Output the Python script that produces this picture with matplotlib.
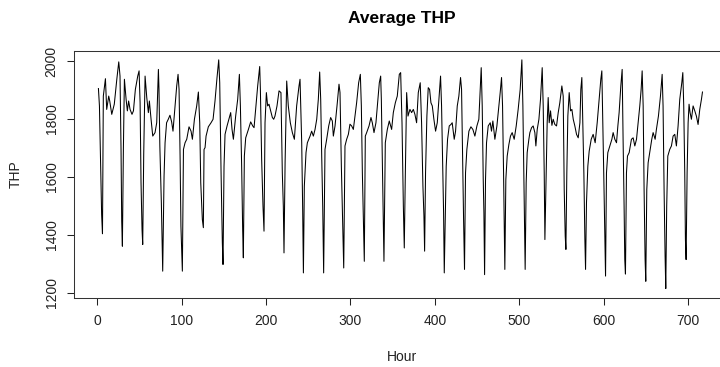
import matplotlib
matplotlib.use("Agg")
import matplotlib.pyplot as plt

# hourly average THP (hour, value)
hours = [
    1.2, 2.4, 4, 5, 6, 7, 9.5, 11, 13.4, 14.6, 17, 20, 23, 25.3, 26.8, 28, 28.8, 29.6, 30.8, 32,
    34, 35.5, 37, 38.7, 41, 42.7, 45, 47.8, 49.4, 50.6, 51.7, 52.9, 53.7, 54.9, 56.5, 58.5, 60.4, 61.6,
    63.6, 65.6, 68.3, 70.3, 72.3, 73, 74, 75.8, 77.4, 79, 80.2, 82, 84, 86, 88, 89.6, 92, 94, 95.6,
    96.8, 98, 99, 100.7, 102,
    103.9, 105.9, 108.6, 111, 112.6, 115, 117.7, 119.7, 121.3, 122.5, 124.4, 125.6, 126.4, 127.6,
    128.8, 131.5, 134.7, 137.1, 139.4, 141.8, 143.8, 145, 146.6, 148.1, 148.9, 150.1, 151.3, 153.7,
    156.4, 158, 159.6, 161.2, 163.9, 166.3, 168.3, 169.5, 171, 172.2, 173, 174.2, 175.8, 179, 181.7,
    184.1, 185.7, 187.6, 190, 192.4, 193.2, 194.7, 196.3, 197.5, 198.7, 200.3, 201.8, 203.4, 205,
    207.4, 209, 210.5, 212.9, 215.3, 217.6, 219.2, 220.4, 221.2, 222.5, 224.4, 226.3, 228.7, 231.1,
    233.5, 236.2, 239, 240.2, 242.2, 243.4, 244.2,
    245.3, 247.3, 248.9, 252.1, 254, 256, 258, 260, 261.9, 263.5, 264.7, 265.9, 267.1, 268.2, 269.8,
    271.8, 274.2, 276.5, 278.5, 279.7, 281.7, 284.4, 286.4, 287.6, 289.2, 290.4, 292, 293.5, 295.5,
    297.5, 299.4, 301.4, 303.4, 305.4, 307.3, 309.7, 311.7, 312.9, 314.1, 315.2, 316.4, 317.6, 319.2,
    322, 324.3, 325.9, 327.9, 330.2, 332.6, 334.2, 335.8, 336.6, 338.1, 339.7, 341.3, 343.7, 346,
    348.8, 350.8, 353.2, 355.5, 357.9, 359.5, 361.1, 362.7, 363.8, 365, 366.6, 368.2, 370.5, 372.5,
    374.5,
    376.4, 378.4, 380.4, 382.7, 384.3, 385.9, 387.1, 387.9, 389, 390.6, 392.2, 393.8, 395.4, 397,
    398.9, 400.9, 402.9, 404.8, 406.8, 408, 409.2, 410.4, 411.2, 412.3, 413.5, 415.1, 417.1, 419.1,
    420.6, 423, 424.6, 426.6, 428.5, 430.5, 431.7, 432.9, 434.1, 435.2, 436.4, 438, 440.4, 442.8,
    445.1, 447.5, 449.9, 452.2, 453.8, 455, 456.2, 457.4, 458.2, 459, 460.1, 461.3, 463.3, 465.7,
    467.2, 468.8, 471.2, 473.6, 476, 477.5, 479.1, 480.3, 481.5, 482.2, 483, 484.2, 485.8, 487.8,
    489.7, 491.7, 494.1, 496.5, 498.8, 501.2, 503.2, 504.4, 505.5, 506.3, 507.1, 508.3, 509.5, 511.5,
    512.7, 514.7, 516.6, 518.6, 519.8, 521.4, 523.4, 525.3, 527.3, 528.5, 529.7, 530.5, 531.7, 533.2,
    534.4, 535.6, 537.2, 538.8, 540.3, 542.3, 544.3, 546.3, 548.2, 550.6, 552.2, 553.4, 554.6, 555.4,
    556.5, 557.7, 559.3, 560.9, 562.5, 564.1, 566, 568, 570, 572, 573.1, 574.3, 575.5, 576.7, 577.9,
    578.7, 579.8, 581.4, 583, 585.4, 587.7, 590.1, 592.5, 594.8, 596.8, 598, 599.2, 600.4, 601.6,
    602.4, 603.5, 605.1, 607.5, 609.9, 611.4, 613.4, 615.4, 617, 618.5, 620.5, 622.1,
    623.2, 624.4, 625.2, 626, 627.2, 628.4, 630.4, 633.1, 635.1, 637.1, 639.1, 641, 643, 644.6,
    645.8, 647, 648.1, 649.3, 650.1, 651.3, 652.9, 654.8, 657.2, 658.8, 661.2, 662.7, 665.1, 667.5,
    669.5, 670.6, 671.8, 673, 673.8, 674.9, 676.2, 678.5, 680.5, 682.5, 684.5, 686.4, 688.4, 690.4,
    692.8, 694, 695.1, 696.3, 697.1, 697.9, 699.1, 700.3, 701.4, 702.6, 704.2, 706.2, 708.2, 710.1,
    712.1, 714.1, 716.1, 717.3,
]
thp = [
    1905, 1845, 1603, 1470, 1404, 1879, 1939, 1833, 1879, 1862, 1816, 1851, 1937, 1997, 1948, 1695, 1448, 1361, 1700, 1937,
    1868, 1828, 1862, 1833, 1816, 1828, 1902, 1948, 1966, 1856, 1580, 1419, 1367, 1680, 1948, 1874, 1822, 1862,
    1799, 1741, 1753, 1787, 1971, 1902, 1707, 1511, 1275, 1603, 1718, 1787, 1799, 1813, 1790, 1758, 1845, 1914, 1954,
    1902, 1672, 1430, 1275, 1695,
    1718, 1730, 1773, 1758, 1730, 1799, 1845, 1893, 1787, 1580, 1453, 1425, 1695, 1701,
    1741, 1773, 1787, 1799, 1862, 1943, 2004, 1925, 1614, 1373, 1298, 1637, 1747, 1776,
    1805, 1822, 1764, 1730, 1810, 1868, 1954, 1845, 1637, 1419, 1321, 1672, 1735, 1764, 1790,
    1776, 1770, 1833, 1914, 1981, 1902, 1661, 1499, 1413, 1787, 1891, 1845, 1851, 1833,
    1805, 1799, 1810, 1845, 1897, 1891, 1614, 1499, 1338, 1650, 1931, 1845, 1787, 1753,
    1730, 1845, 1914, 1937, 1718, 1476, 1269,
    1568, 1684, 1718, 1741, 1758, 1741, 1764, 1799, 1868, 1962, 1868, 1672, 1499, 1269, 1695,
    1730, 1776, 1805, 1793, 1741, 1776, 1856, 1920, 1891, 1637, 1488, 1286, 1707, 1730,
    1747, 1782, 1776, 1764, 1810, 1856, 1925, 1954, 1845, 1614, 1476, 1309, 1741, 1753,
    1776, 1805, 1787, 1753, 1787, 1868, 1925, 1948, 1868, 1591, 1309, 1718, 1764, 1793,
    1764, 1822, 1856, 1879, 1954, 1960, 1787, 1499, 1355, 1603, 1891, 1810, 1833, 1822,
    1833,
    1816, 1787, 1891, 1925, 1787, 1568, 1465, 1344, 1614, 1810, 1908, 1902, 1856, 1845,
    1799, 1758, 1787, 1868, 1948, 1845, 1661, 1476, 1269, 1453, 1637, 1730, 1776, 1781,
    1787, 1730, 1758, 1845, 1879, 1943, 1902, 1672, 1453, 1281, 1614, 1695, 1758, 1773,
    1764, 1741, 1776, 1799, 1902, 1977, 1845, 1591, 1476, 1263, 1591, 1718, 1776, 1787,
    1758, 1793, 1730, 1776, 1845, 1891, 1943, 1845, 1614, 1453, 1281, 1591, 1672, 1712,
    1741, 1753, 1730, 1776, 1833, 1902, 2004, 1845, 1614, 1465, 1281, 1580, 1684, 1730,
    1753, 1770, 1776, 1753, 1707, 1764, 1799, 1868, 1977, 1845, 1614, 1384, 1557, 1787,
    1874, 1787, 1828, 1778, 1799, 1781, 1776, 1822, 1856, 1914, 1879, 1557, 1396, 1350,
    1614, 1810, 1891, 1828, 1833, 1799, 1776, 1747, 1735, 1787, 1902, 1943, 1787, 1614, 1384,
    1281, 1511, 1637, 1689, 1730, 1747, 1718, 1787, 1868, 1937, 1966, 1787, 1591, 1384,
    1258, 1614, 1684, 1707, 1730, 1753, 1730, 1718, 1776, 1822, 1914, 1971,
    1730, 1499, 1315, 1265, 1614, 1672, 1684, 1730, 1735, 1707, 1730, 1787, 1845, 1902,
    1966, 1845, 1557, 1315, 1240, 1557, 1649, 1684, 1730, 1753, 1730, 1764, 1810, 1879,
    1954, 1845, 1557, 1327, 1215, 1499, 1672, 1695, 1707, 1741, 1747, 1707, 1776, 1868,
    1925, 1960, 1845, 1614, 1384, 1315, 1614, 1787, 1851, 1822, 1799, 1845, 1828, 1810,
    1781, 1833, 1868, 1893,
]
xticks = [0, 100, 200, 300, 400, 500, 600, 700]
yticks = [1200, 1400, 1600, 1800, 2000]

plt.rcParams['font.family'] = ['Liberation Sans', 'DejaVu Sans']

fig = plt.figure(figsize=(7.2, 3.67), dpi=100)
W, H = 720, 367
# plot box in pixels (right edge falls off the canvas like the reference)
left, right, top, bottom = 74, 729, 50.7, 297.7
ax = fig.add_axes([left / W, 1 - bottom / H, (right - left) / W, (bottom - top) / H])

ax.plot(hours, thp, color="black", lw=0.75)

# R-style 4% padding
x0, x1 = 1, 720
y0, y1 = min(thp), max(thp)
ax.set_xlim(x0 - 0.04 * (x1 - x0), x1 + 0.04 * (x1 - x0))
ax.set_ylim(y0 - 0.04 * (y1 - y0), y1 + 0.04 * (y1 - y0))

ax.set_xticks(xticks)
ax.set_yticks(yticks)
ax.set_yticklabels([str(v) for v in yticks], rotation=90, va="center")
ax.tick_params(axis="both", length=5, width=0.75, color="#222222",
               labelsize=10, labelcolor="#222222")
ax.tick_params(axis="x", pad=7)
ax.tick_params(axis="y", pad=6)
for s in ax.spines.values():
    s.set_linewidth(0.75)
    s.set_color("#333333")

fig.text((left + right) / 2 / W, 1 - 18.5 / H, "Average THP", ha="center", va="center",
         fontsize=12.5, fontweight="bold", color="black")
fig.text((left + right) / 2 / W, 1 - 357 / H, "Hour", ha="center", va="center",
         fontsize=10, color="#222222")
fig.text(16 / W, 1 - (top + bottom) / 2 / H, "THP", ha="center", va="center",
         rotation=90, fontsize=10, color="#222222")

fig.savefig("out.png", dpi=100)
